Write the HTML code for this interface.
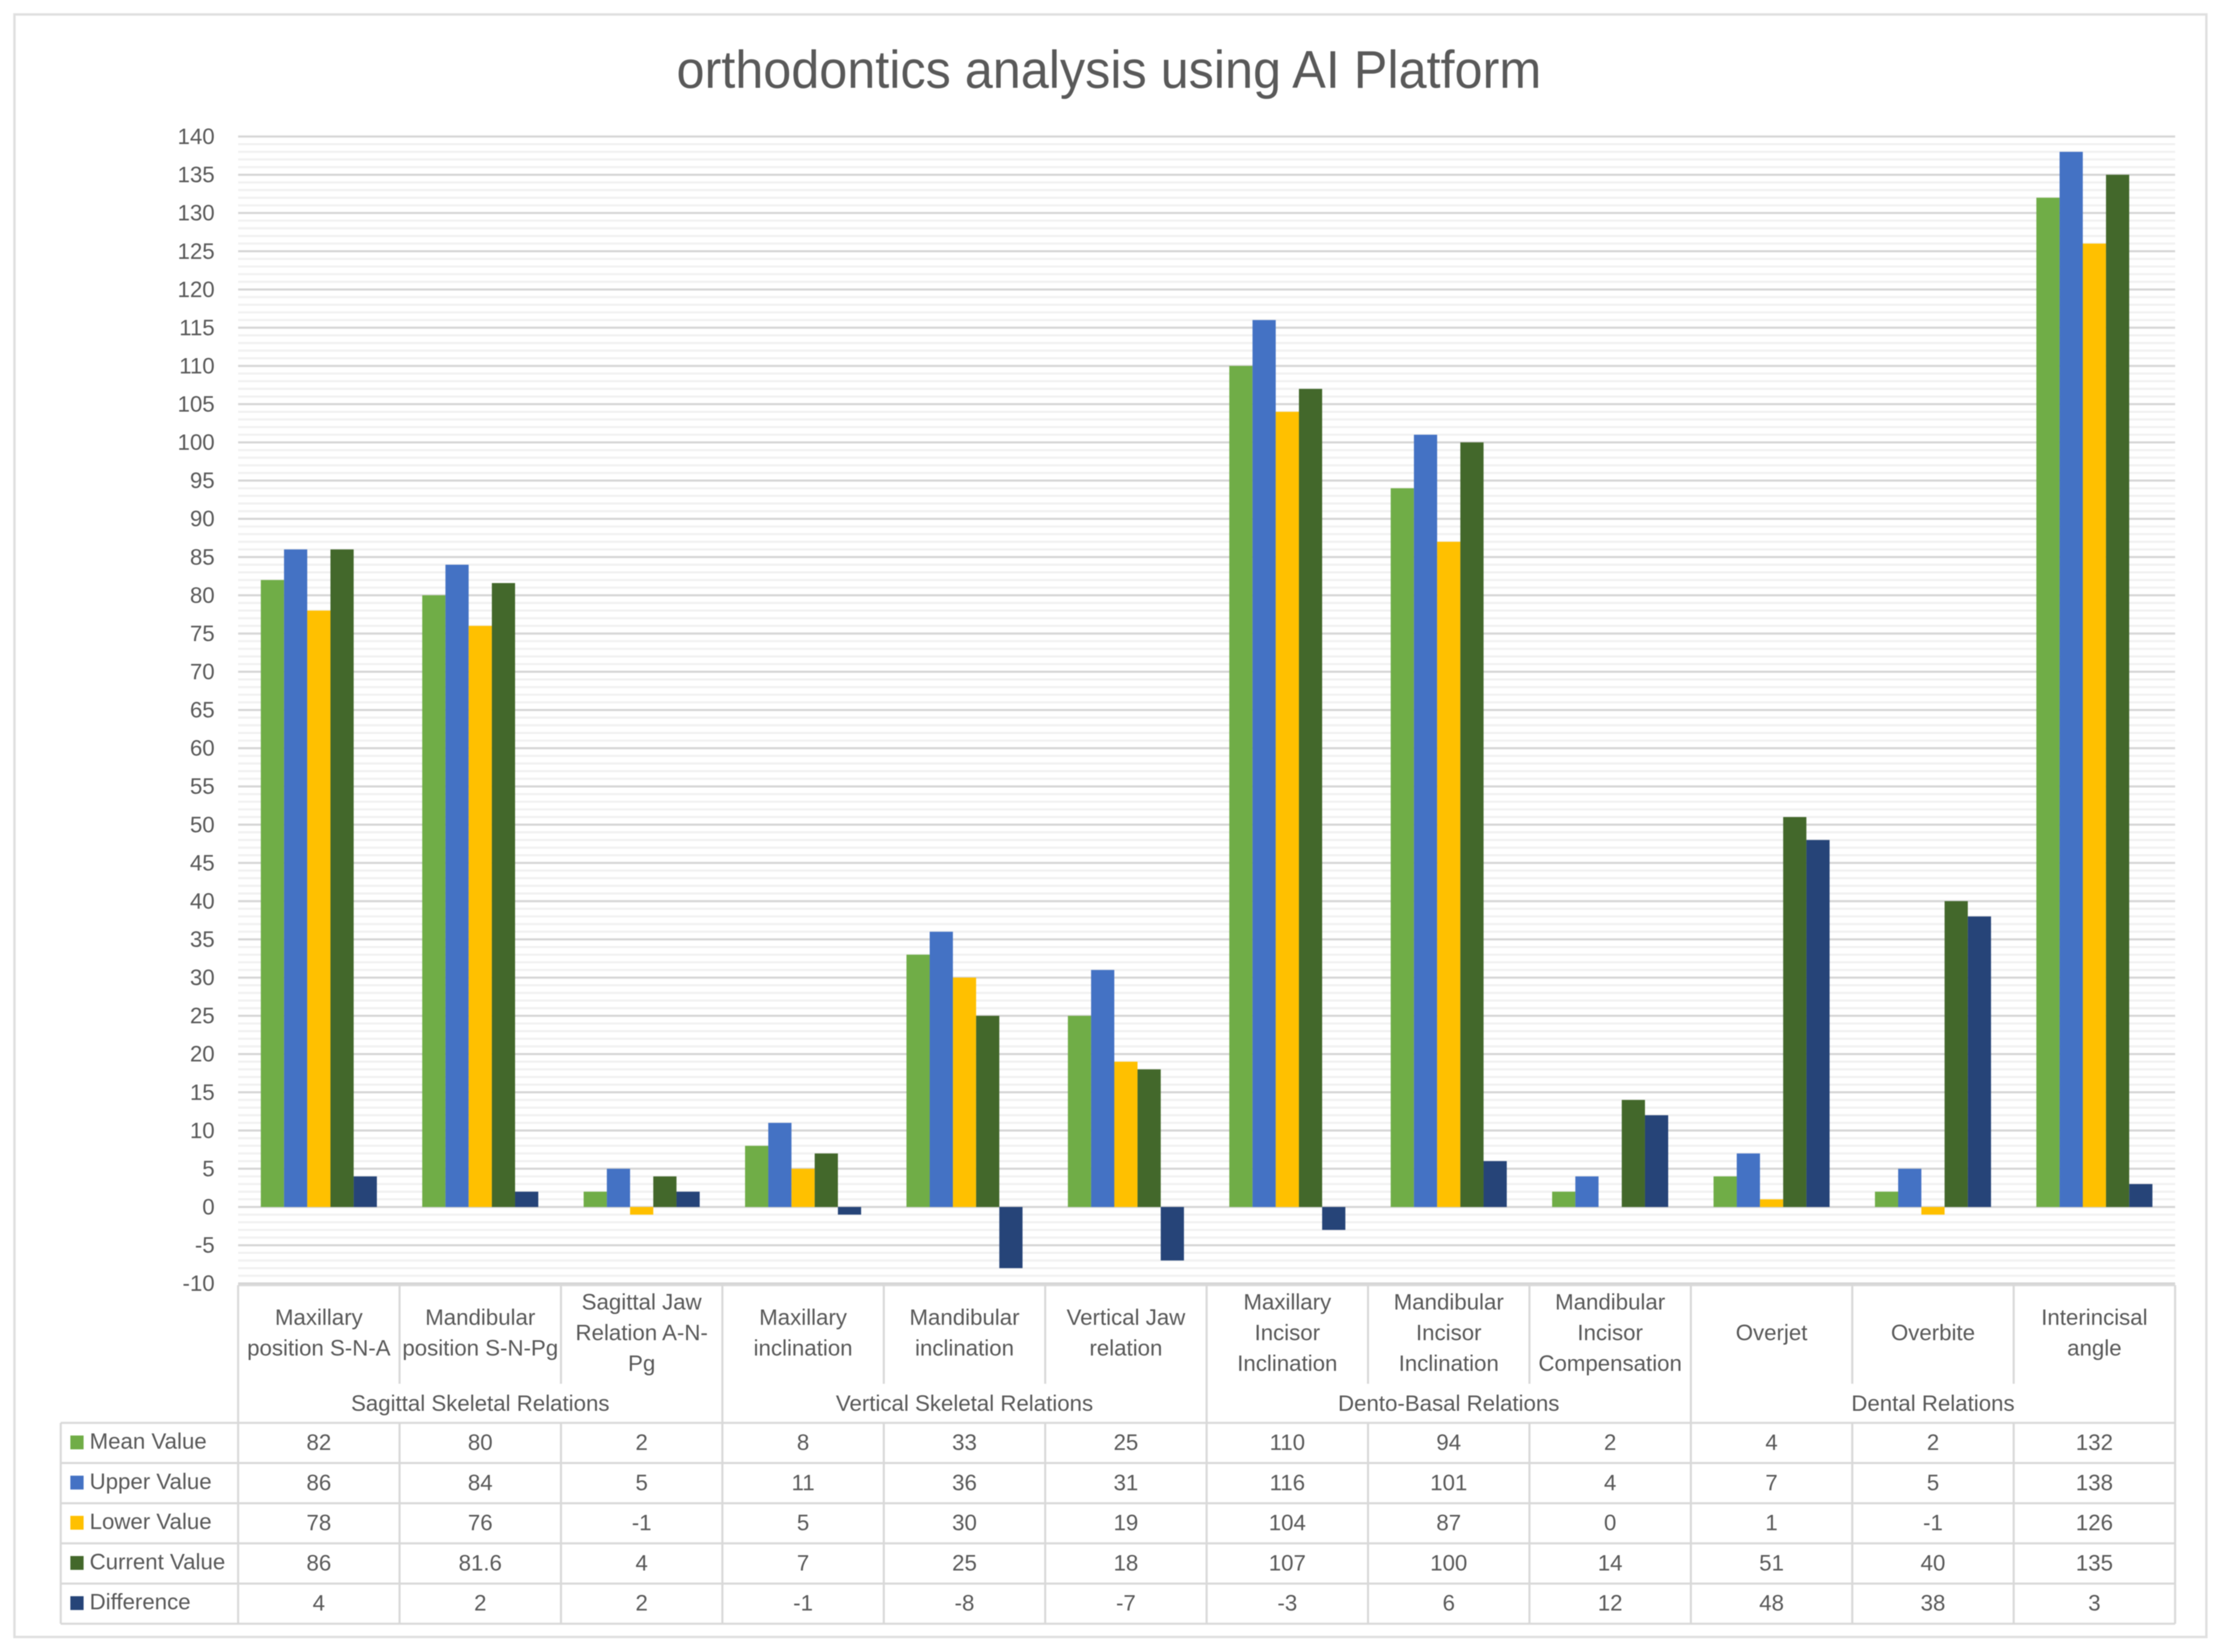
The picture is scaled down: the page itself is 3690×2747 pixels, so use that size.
<!DOCTYPE html>
<html lang="en">
<head>
<meta charset="utf-8">
<title>orthodontics analysis using AI Platform</title>
<style>
html,body{margin:0;padding:0;background:#fff;width:3690px;height:2747px;overflow:hidden}
svg{display:block;filter:blur(0.9px)}
text{font-family:"Liberation Sans",sans-serif;fill:#595959}
</style>
</head>
<body>
<svg id="chart" xmlns="http://www.w3.org/2000/svg" width="3690" height="2747" viewBox="0 0 3690 2747">
  <rect x="24" y="24" width="3645" height="2698" fill="#ffffff" stroke="#e0e0e0" stroke-width="4"/>
  <text x="1844" y="146" text-anchor="middle" font-size="88" textLength="1438" lengthAdjust="spacingAndGlyphs">orthodontics analysis using AI Platform</text>
</svg>
<script>
const categories = [
  ["Maxillary", "position S-N-A"],
  ["Mandibular", "position S-N-Pg"],
  ["Sagittal Jaw", "Relation A-N-", "Pg"],
  ["Maxillary", "inclination"],
  ["Mandibular", "inclination"],
  ["Vertical Jaw", "relation"],
  ["Maxillary", "Incisor", "Inclination"],
  ["Mandibular", "Incisor", "Inclination"],
  ["Mandibular", "Incisor", "Compensation"],
  ["Overjet"],
  ["Overbite"],
  ["Interincisal", "angle"]
];
const groupLabels = ["Sagittal Skeletal Relations", "Vertical Skeletal Relations", "Dento-Basal Relations", "Dental Relations"];
const groupSpans = [3, 3, 3, 3];
const seriesNames = ["Mean Value", "Upper Value", "Lower Value", "Current Value", "Difference"];
const seriesColors = ["#70AD47", "#4472C4", "#FFC000", "#43682B", "#264478"];
const meanValues = [82, 80, 2, 8, 33, 25, 110, 94, 2, 4, 2, 132];
const upperValues = [86, 84, 5, 11, 36, 31, 116, 101, 4, 7, 5, 138];
const lowerValues = [78, 76, -1, 5, 30, 19, 104, 87, 0, 1, -1, 126];
const currentValues = [86, 81.6, 4, 7, 25, 18, 107, 100, 14, 51, 40, 135];
const differenceValues = [4, 2, 2, -1, -8, -7, -3, 6, 12, 48, 38, 3];
const allSeries = [meanValues, upperValues, lowerValues, currentValues, differenceValues];
const axisMin = -10;
const axisMax = 140;
const majorStep = 5;
const minorStep = 1;

const NS = "http://www.w3.org/2000/svg";
const svg = document.getElementById("chart");
const plotLeft = 396, plotRight = 3617;
const colW = (plotRight - plotLeft) / categories.length;
const y0 = 2007, pxPerUnit = 12.714;
const barW = 38.6;
const legendLeft = 101, tableTop = 2137, catBottom = 2301, rowsTop = 2366, rowH = 66.8, tableBottom = 2700;
const LINE = "#d9d9d9";

function yScale(v) { return y0 - v * pxPerUnit; }
function xScale(i) { return plotLeft + colW * i; }
function shape(tag, props) {
  const el = document.createElementNS(NS, tag);
  for (const k in props) el.setAttribute(k, props[k]);
  svg.appendChild(el);
  return el;
}
function tableLine(x1, y1, x2, y2) {
  return shape("line", { x1: x1, y1: y1, x2: x2, y2: y2, stroke: LINE, "stroke-width": 3.5 });
}

// minor gridlines
for (let v = axisMin; v <= axisMax; v += minorStep) {
  if (v % majorStep === 0) continue;
  const g = shape("line", { x1: plotLeft, x2: plotRight, y1: yScale(v), y2: yScale(v), stroke: "#f1f1f1", "stroke-width": 3.5 });
  
  
}
// major gridlines and tick labels
for (let v = axisMin; v <= axisMax; v += majorStep) {
  const g = shape("line", { x1: plotLeft, x2: plotRight, y1: yScale(v), y2: yScale(v), stroke: "#d6d6d6", "stroke-width": 3.5 });
  
  
  const t = shape("text", { x: 357, y: yScale(v) + 12.5, "text-anchor": "end", "font-size": 37 });
  t.textContent = String(v);
  
  
}
// bars
allSeries.forEach(function (values, s) {
  values.forEach(function (val, c) {
    const center = xScale(c) + colW / 2;
    const x = center - barW * allSeries.length / 2 + barW * s;
    const top = Math.min(yScale(val), yScale(0));
    const h = Math.abs(yScale(val) - yScale(0));
    const b = shape("rect", { x: x, y: top, width: barW, height: h, fill: seriesColors[s] });
    
    
  });
});
// data table grid: horizontal lines
const topBorder = tableLine(plotLeft, tableTop, plotRight, tableTop);


for (let r = 0; r <= seriesNames.length; r++) {
  const y = rowsTop + rowH * r;
  const l = tableLine(legendLeft, y, plotRight, y);
  
  
}
// data table grid: vertical lines
const leftBorder = tableLine(legendLeft, rowsTop, legendLeft, tableBottom);


let boundary = 0;
const groupEdges = [0];
groupSpans.forEach(function (n) { boundary += n; groupEdges.push(boundary); });
for (let c = 0; c <= categories.length; c++) {
  const x = xScale(c);
  const full = groupEdges.indexOf(c) >= 0;
  const a = tableLine(x, tableTop, x, full ? tableBottom : catBottom);
  
  
  if (!full) {
    const b = tableLine(x, rowsTop, x, tableBottom);
    
    
  }
}
// category labels
categories.forEach(function (lines, c) {
  const cx = xScale(c) + colW / 2;
  const firstCenter = 2216 - (lines.length - 1) * 51 / 2 ;
  lines.forEach(function (ln, i) {
    const t = shape("text", { x: cx, y: firstCenter + i * 51 + 12.5, "text-anchor": "middle", "font-size": 37 });
    t.textContent = ln;
    
    
  });
});
// group labels
let startCol = 0;
groupLabels.forEach(function (label, g) {
  const cx = xScale(startCol + groupSpans[g] / 2);
  const t = shape("text", { x: cx, y: 2346, "text-anchor": "middle", "font-size": 37 });
  t.textContent = label;
  
  
  startCol += groupSpans[g];
});
// legend keys and table values
seriesNames.forEach(function (name, s) {
  const top = rowsTop + rowH * s;
  const k = shape("rect", { x: 117, y: top + 21, width: 22, height: 23, fill: seriesColors[s] });
  
  
  const n = shape("text", { x: 149, y: top + 43, "font-size": 37 });
  n.textContent = name;
  
  
  allSeries[s].forEach(function (val, c) {
    const t = shape("text", { x: xScale(c) + colW / 2, y: top + 45, "text-anchor": "middle", "font-size": 37 });
    t.textContent = String(val);
    
    
  });
});
</script>
</body>
</html>
